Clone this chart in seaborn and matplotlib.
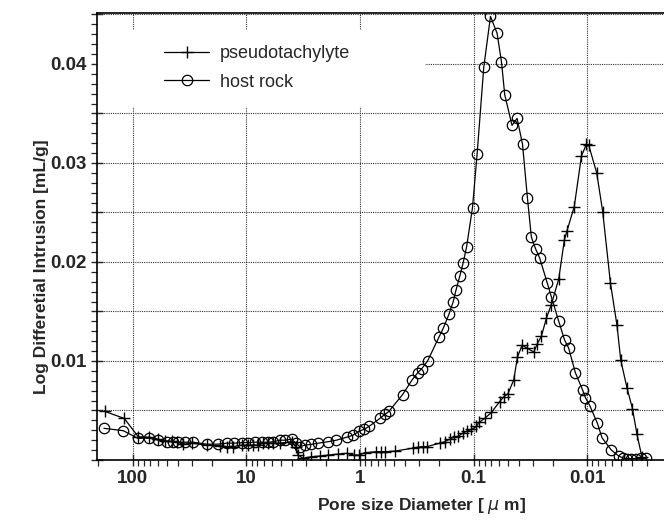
import numpy as np
import pandas as pd
import matplotlib
matplotlib.use("Agg")
import matplotlib.pyplot as plt
import matplotlib.ticker as mticker
from matplotlib.patches import Rectangle
import seaborn as sns

# pore diameter [um] and log differential intrusion [mL/g]
pseudo_d = [175, 118.6, 89.3, 71.4, 59.6, 52.0, 45.4, 40.5, 35.9, 30.3, 22.4, 17.1,
            14.9, 13.0, 11.0, 9.6, 8.7, 7.85, 7.1, 6.4, 5.8, 5.06, 4.0, 3.66, 3.50,
            3.16, 2.67, 2.25, 1.90, 1.56, 1.31, 1.13, 1.016, 0.906, 0.715, 0.655,
            0.604, 0.493, 0.340, 0.308, 0.281, 0.259, 0.198, 0.179, 0.162, 0.149,
            0.137, 0.125, 0.1154, 0.1043, 0.0943, 0.0895, 0.0798, 0.0697, 0.0589,
            0.0540, 0.0498, 0.0443, 0.0411, 0.0374, 0.0338, 0.0295, 0.0276, 0.0253,
            0.0229, 0.0207, 0.0178, 0.0159, 0.0151, 0.0130, 0.01124, 0.01016, 0.0097,
            0.00825, 0.00731, 0.00625, 0.00547, 0.00507, 0.00447, 0.0040, 0.00365,
            0.0033]
pseudo_v = [0.0049, 0.0042, 0.00235, 0.0023, 0.0021, 0.00195, 0.0019, 0.00185, 0.0016,
            0.0017, 0.0015, 0.00145, 0.00135, 0.00135, 0.0015, 0.0015, 0.0015, 0.0015,
            0.0017, 0.0017, 0.0017, 0.0017, 0.00185, 0.00135, 0.0005, 0.00017, 0.00034,
            0.0004, 0.0005, 0.0006, 0.00067, 0.0005, 0.0005, 0.00074, 0.00084, 0.00084,
            0.00084, 0.0009, 0.0012, 0.0013, 0.00135, 0.00135, 0.0017, 0.00185, 0.0021,
            0.0023, 0.0024, 0.0027, 0.0029, 0.0031, 0.0034, 0.0038, 0.0042, 0.0048,
            0.0059, 0.0064, 0.0067, 0.0081, 0.0104, 0.0116, 0.0113, 0.0109, 0.0117,
            0.0125, 0.0143, 0.0157, 0.0183, 0.0222, 0.0231, 0.0256, 0.0307, 0.0319,
            0.0318, 0.0290, 0.0251, 0.0179, 0.0136, 0.0101, 0.0073, 0.0052, 0.0026,
            0.0003]

host_d = [179, 121, 90, 71.5, 59.6, 50, 44, 39.8, 34.7, 29.3, 22.4, 17.7, 14.9, 12.8,
          11.0, 9.6, 8.4, 7.3, 6.4, 5.8, 5.06, 4.57, 4.0, 3.66, 3.38, 3.05, 2.67, 2.33,
          1.90, 1.61, 1.31, 1.15, 1.02, 0.918, 0.83, 0.668, 0.604, 0.557, 0.422, 0.347,
          0.311, 0.287, 0.254, 0.202, 0.185, 0.165, 0.151, 0.1425, 0.132, 0.1236,
          0.1153, 0.1022, 0.0931, 0.0813, 0.0710, 0.0621, 0.0568, 0.0532, 0.0459,
          0.0414, 0.0371, 0.0336, 0.0310, 0.0284, 0.0262, 0.0225, 0.0207, 0.0178,
          0.0158, 0.01456, 0.0127, 0.0110, 0.01037, 0.0095, 0.00813, 0.00741, 0.00613,
          0.00528, 0.00484, 0.00447, 0.00409, 0.00369, 0.00333, 0.00306]
host_v = [0.0032, 0.00296, 0.00219, 0.0022, 0.0020, 0.00185, 0.00185, 0.00179, 0.0018,
          0.0018, 0.0016, 0.0016, 0.0017, 0.0017, 0.00175, 0.00175, 0.0018, 0.0018,
          0.0018, 0.00185, 0.0020, 0.0020, 0.0021, 0.0017, 0.00135, 0.0015, 0.00158,
          0.0017, 0.00185, 0.0020, 0.0023, 0.0025, 0.0029, 0.0031, 0.0034, 0.0042,
          0.0046, 0.0049, 0.0066, 0.0081, 0.0088, 0.0092, 0.0100, 0.0124, 0.0133,
          0.0147, 0.0160, 0.0172, 0.0186, 0.0199, 0.0215, 0.0255, 0.0309, 0.0397,
          0.0448, 0.0431, 0.0402, 0.0369, 0.0338, 0.0345, 0.0319, 0.0265, 0.0225,
          0.0213, 0.0204, 0.0179, 0.0165, 0.0140, 0.0121, 0.0113, 0.0088, 0.0071,
          0.0063, 0.0055, 0.0037, 0.00225, 0.0010, 0.0004, 0.0002, 0.00015, 0.00015,
          0.00015, 0.00017, 0.00017]

pseudo = pd.DataFrame({"d": pseudo_d, "v": pseudo_v})
host = pd.DataFrame({"d": host_d, "v": host_v})

sns.set_style("ticks")
plt.rcParams["font.family"] = ["Liberation Sans", "DejaVu Sans"]

fig = plt.figure(figsize=(6.64, 5.27), dpi=100)
ax = fig.add_axes([97 / 664, 67 / 527, 567 / 664, 447 / 527])

sns.lineplot(data=pseudo, x="d", y="v", ax=ax, color="black", lw=0.9,
             marker="+", ms=8.5, mew=1.0, mec="black", estimator=None, sort=False,
             label="pseudotachylyte", zorder=4)
sns.lineplot(data=host, x="d", y="v", ax=ax, color="black", lw=0.9,
             marker="o", ms=7.5, mew=0.9, mec="black", mfc="none", estimator=None,
             sort=False, label="host rock", zorder=4)

ax.set_xscale("log")
ax.set_xlim(206, 0.00211)
ax.set_ylim(0, 0.04515)

ax.xaxis.set_major_locator(mticker.LogLocator(base=10, numticks=10))
ax.xaxis.set_minor_locator(mticker.LogLocator(base=10, subs=np.arange(2, 10), numticks=20))
ax.xaxis.set_major_formatter(mticker.FuncFormatter(lambda v, p: f"{v:g}"))
ax.xaxis.set_minor_formatter(mticker.NullFormatter())

ax.yaxis.set_major_locator(mticker.MultipleLocator(0.005))
ax.yaxis.set_minor_locator(mticker.MultipleLocator(0.001))
ax.yaxis.set_major_formatter(mticker.FuncFormatter(
    lambda v, p: f"{v:.2f}" if (v > 1e-6 and abs(v * 100 - round(v * 100)) < 1e-6) else ""))

ax.grid(True, which="major", color="#333333", lw=0.8, ls=(0, (1, 1)))
ax.set_axisbelow(True)

ax.tick_params(which="major", direction="inout", length=8, width=1, labelsize=13.5)
ax.tick_params(which="minor", direction="out", length=4, width=0.9)
for lab in ax.get_xticklabels() + ax.get_yticklabels():
    lab.set_fontweight("bold")

for s in ["left", "bottom", "top"]:
    ax.spines[s].set_linewidth(1.2)
    ax.spines[s].set_color("black")
ax.spines["right"].set_visible(False)

# white patch behind the legend hides the grid there
ax.add_patch(Rectangle((0, 0.79), 0.578, 0.172, transform=ax.transAxes,
                       facecolor="white", edgecolor="none", zorder=1.5))

ax.set_xlabel("Pore size Diameter [ $\\mu$ m]", fontsize=12.5, fontweight="bold")
ax.xaxis.set_label_coords(0.573, -0.08)
ax.set_ylabel("Log Differetial Intrusion [mL/g]", fontsize=12.5, fontweight="bold")
ax.yaxis.set_label_coords(-0.085, 0.432)

leg = ax.legend(loc="upper left", bbox_to_anchor=(0.09, 0.965), frameon=False,
                fontsize=13, handlelength=2.5, labelspacing=0.65, handletextpad=0.6)

fig.savefig("out.png", dpi=100)
